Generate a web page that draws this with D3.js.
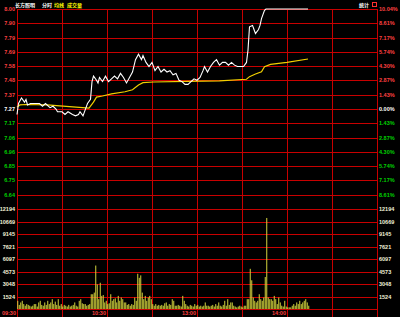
<!DOCTYPE html>
<html>
<head>
<meta charset="utf-8">
<script src="https://cdn.jsdelivr.net/npm/d3@7"></script>
<style>
  body { margin: 0; background: #000; }
  svg { display: block; }
  text { font-family: "Liberation Sans", "DejaVu Sans", sans-serif; }
</style>
</head>
<body>
<div id="chart"></div>
<script>
// previous close and limit range
var prevClose = 7.27;
var limitPct = 10.04;

// price tick labels (top to bottom) and the right side percents
var priceTickLabels = ["8.00", "7.90", "7.79", "7.69", "7.58", "7.48", "7.37", "7.27",
                       "7.17", "7.06", "6.96", "6.85", "6.75", "6.64"];
var pctTickLabels = ["10.04%", "8.61%", "7.17%", "5.74%", "4.30%", "2.87%", "1.43%", "0.00%",
                     "1.43%", "2.87%", "4.30%", "5.74%", "7.17%", "8.61%"];
var volTickLabels = ["12194", "10669", "9145", "7621", "6097", "4573", "3048", "1524"];
var volMax = 12194;

// time axis
var timeLabels = ["09:30", "10:30", "13:00", "14:00"];
var timeMinutes = [0, 60, 120, 180];

// price line (minute from 09:30, trading minutes)
var priceMinutes = [0, 1, 3, 5, 6, 7, 9, 11, 13, 15, 17, 19, 22, 24, 26, 27, 30, 32, 34, 37,
  39, 41, 42, 44, 46, 47, 49, 50, 51, 53, 54, 55, 57, 59, 61, 63, 65, 67, 69, 71,
  73, 75, 77, 79, 81, 83, 84, 86, 88, 90, 92, 94, 96, 98, 100, 102, 104, 106, 108, 110,
  112, 114, 116, 118, 120, 122, 124, 125, 127, 129, 131, 133, 135, 137, 139, 141, 143, 145, 147, 149,
  151, 153, 154, 155, 157, 158, 159, 161, 162, 163, 165, 166, 194];
var prices = [7.23, 7.31, 7.35, 7.32, 7.34, 7.30, 7.31, 7.31, 7.31, 7.31, 7.29, 7.31, 7.28, 7.29, 7.27, 7.25, 7.25, 7.23, 7.25, 7.23,
  7.22, 7.23, 7.25, 7.22, 7.28, 7.31, 7.34, 7.47, 7.51, 7.48, 7.46, 7.50, 7.47, 7.51, 7.47, 7.49, 7.51, 7.49, 7.53, 7.50,
  7.46, 7.50, 7.54, 7.63, 7.67, 7.63, 7.66, 7.61, 7.58, 7.61, 7.55, 7.58, 7.54, 7.56, 7.54, 7.55, 7.52, 7.53, 7.48, 7.47,
  7.45, 7.45, 7.47, 7.49, 7.48, 7.50, 7.55, 7.58, 7.54, 7.58, 7.61, 7.63, 7.59, 7.61, 7.61, 7.59, 7.61, 7.59, 7.58, 7.58,
  7.58, 7.61, 7.70, 7.87, 7.88, 7.85, 7.82, 7.85, 7.88, 7.93, 7.99, 8.00, 8.00];

// average price line
var avgMinutes = [0, 2, 6, 20, 35, 48, 51, 53, 57, 63, 72, 77, 81, 84, 91, 113, 135, 153, 155, 159, 163, 165, 169, 180, 194];
var avgPrices = [7.285, 7.30, 7.303, 7.30, 7.288, 7.277, 7.32, 7.357, 7.365, 7.38, 7.396, 7.41, 7.445, 7.462, 7.467,
  7.472, 7.476, 7.487, 7.506, 7.525, 7.542, 7.578, 7.596, 7.61, 7.635];

// volume per minute
var volumes = [1000, 500, 800, 1000, 600, 400, 600, 500, 400, 300,
  400, 600, 600, 300, 800, 1000, 500, 400, 800, 500,
  1000, 600, 800, 1200, 600, 900, 500, 1200, 400, 600,
  300, 500, 400, 300, 500, 300, 400, 500, 800, 400,
  300, 1000, 1200, 700, 600, 600, 400, 500, 600, 1800,
  1800, 2000, 5300, 3000, 1200, 3200, 1600, 1700, 800, 1000,
  600, 700, 1800, 1000, 1200, 1300, 800, 1600, 1000, 1400,
  1200, 800, 800, 500, 600, 400, 600, 500, 1400, 1000,
  4300, 3800, 4100, 2000, 1200, 1600, 1000, 1400, 1600, 1200,
  600, 400, 600, 400, 500, 400, 500, 400, 700, 800,
  400, 600, 500, 1200, 1000, 400, 400, 500, 400, 300,
  1600, 1000, 600, 400, 300, 500, 400, 300, 600, 400,
  500, 300, 400, 300, 400, 800, 400, 400, 300, 400,
  500, 300, 600, 400, 800, 400, 300, 500, 1000, 400,
  1200, 500, 800, 800, 400, 300, 200, 300, 400, 300,
  200, 400, 400, 1200, 1200, 4900, 3500, 1400, 1000, 800,
  1000, 1800, 1200, 1000, 1400, 3900, 11100, 1400, 1200, 1200,
  1000, 1600, 1200, 600, 1400, 800, 400, 300, 1000, 300,
  200, 200, 200, 400, 600, 400, 800, 600, 1000, 600,
  800, 1000, 1200, 800, 400];

var width = 400, height = 317;
var left = 17, right = 377;
var priceTop = 9, priceBottom = 209, volBottom = 309;

var gridColor = "#c80000";
var upColor = "#ff4040", downColor = "#00d000", flatColor = "#ffffff";

var svg = d3.select("#chart").append("svg")
    .attr("width", width)
    .attr("height", height)
    .style("background", "#000");

var step = prevClose * limitPct / 100 / 7;
var pTop = prevClose + 7 * step;
var pBottom = prevClose - 7 * step;

var x = d3.scaleLinear().domain([0, 240]).range([left, right]);
var y = d3.scaleLinear().domain([pBottom, pTop]).range([priceBottom, priceTop]);
var yVol = d3.scaleLinear().domain([0, volMax]).range([volBottom, priceBottom]);

// horizontal grid - price panel
var priceTicks = priceTickLabels.map(function (d, i) { return prevClose + (7 - i) * step; });
svg.append("g")
  .selectAll("line")
  .data(priceTicks.concat([pBottom]))
  .enter().append("line")
  .attr("x1", left).attr("x2", right)
  .attr("y1", function (d) { return Math.round(y(d)) + 0.5; })
  .attr("y2", function (d) { return Math.round(y(d)) + 0.5; })
  .attr("stroke", gridColor)
  .attr("stroke-width", 1);

// horizontal grid - volume panel
var volTicks = volTickLabels.map(function (d, i) { return volMax - i * volMax / 8; });
svg.append("g")
  .selectAll("line")
  .data(volTicks.concat([0]))
  .enter().append("line")
  .attr("x1", left).attr("x2", right)
  .attr("y1", function (d) { return Math.round(yVol(d)) + 0.5; })
  .attr("y2", function (d) { return Math.round(yVol(d)) + 0.5; })
  .attr("stroke", gridColor);

// vertical grid
svg.append("g")
  .selectAll("line")
  .data(d3.range(0, 241, 30))
  .enter().append("line")
  .attr("x1", function (d) { return Math.round(x(d)) + 0.5; })
  .attr("x2", function (d) { return Math.round(x(d)) + 0.5; })
  .attr("y1", priceTop)
  .attr("y2", volBottom + 8)
  .attr("stroke", gridColor);

// volume bars
svg.append("g")
  .selectAll("rect")
  .data(volumes)
  .enter().append("rect")
  .attr("x", function (d, i) { return x(i + 0.5) - 0.5; })
  .attr("width", 1)
  .attr("y", function (d) { return yVol(d); })
  .attr("height", function (d) { return volBottom - yVol(d); })
  .attr("fill", "#d2d23c");

// average line
var avgLine = d3.line()
  .x(function (d) { return x(d[0]); })
  .y(function (d) { return y(d[1]); });
svg.append("path")
  .attr("d", avgLine(d3.zip(avgMinutes, avgPrices)))
  .attr("fill", "none")
  .attr("stroke", "#f0d000")
  .attr("stroke-width", 1.2);

// price line
svg.append("path")
  .attr("d", avgLine(d3.zip(priceMinutes, prices)))
  .attr("fill", "none")
  .attr("stroke", "#ffffff")
  .attr("stroke-width", 1.1);

function tickColor(i) {
  if (i < 7) return upColor;
  if (i === 7) return flatColor;
  return downColor;
}

// left price labels
svg.append("g")
  .selectAll("text")
  .data(priceTickLabels)
  .enter().append("text")
  .attr("x", 15)
  .attr("y", function (d, i) { return y(priceTicks[i]) + 2; })
  .attr("text-anchor", "end")
  .attr("font-size", 5.5)
  .attr("font-weight", "bold")
  .attr("fill", function (d, i) { return tickColor(i); })
  .text(function (d) { return d; });

// right percent labels
svg.append("g")
  .selectAll("text")
  .data(pctTickLabels)
  .enter().append("text")
  .attr("x", 379)
  .attr("y", function (d, i) { return y(priceTicks[i]) + 2; })
  .attr("font-size", 5.5)
  .attr("font-weight", "bold")
  .attr("fill", function (d, i) { return tickColor(i); })
  .text(function (d) { return d; });

// volume labels both sides
[{ x: 15, anchor: "end" }, { x: 379, anchor: "start" }].forEach(function (s) {
  svg.append("g")
    .selectAll("text")
    .data(volTickLabels)
    .enter().append("text")
    .attr("x", s.x)
    .attr("y", function (d, i) { return yVol(volTicks[i]) + 2; })
    .attr("text-anchor", s.anchor)
    .attr("font-size", 5.5)
    .attr("font-weight", "bold")
    .attr("fill", "#f0f0d8")
    .text(function (d) { return d; });
});

// time labels
svg.append("g")
  .selectAll("text")
  .data(timeLabels)
  .enter().append("text")
  .attr("x", function (d, i) { return x(timeMinutes[i]) - 1; })
  .attr("y", 315)
  .attr("text-anchor", "end")
  .attr("font-size", 5.5)
  .attr("font-weight", "bold")
  .attr("fill", "#ff4040")
  .text(function (d) { return d; });

// header
var header = [
  { t: "长方照明", x: 15, c: "#ffffff" },
  { t: "分时", x: 42, c: "#ffffff" },
  { t: "均线", x: 54, c: "#ffff00" },
  { t: "成交量", x: 67, c: "#ffff00" }
];
svg.append("g")
  .selectAll("text")
  .data(header)
  .enter().append("text")
  .attr("x", function (d) { return d.x; })
  .attr("y", 7)
  .attr("font-size", 5)
  .attr("font-weight", "bold")
  .style("font-family", "'Noto Sans CJK SC', sans-serif")
  .attr("fill", function (d) { return d.c; })
  .text(function (d) { return d.t; });

svg.append("text")
  .attr("x", 359).attr("y", 7)
  .attr("font-size", 5)
  .attr("font-weight", "bold")
  .style("font-family", "'Noto Sans CJK SC', sans-serif")
  .attr("fill", "#ffffff")
  .text("统计");
svg.append("rect")
  .attr("x", 372.5).attr("y", 2.5)
  .attr("width", 4).attr("height", 4)
  .attr("fill", "none")
  .attr("stroke", "#ff3030");
</script>
</body>
</html>
